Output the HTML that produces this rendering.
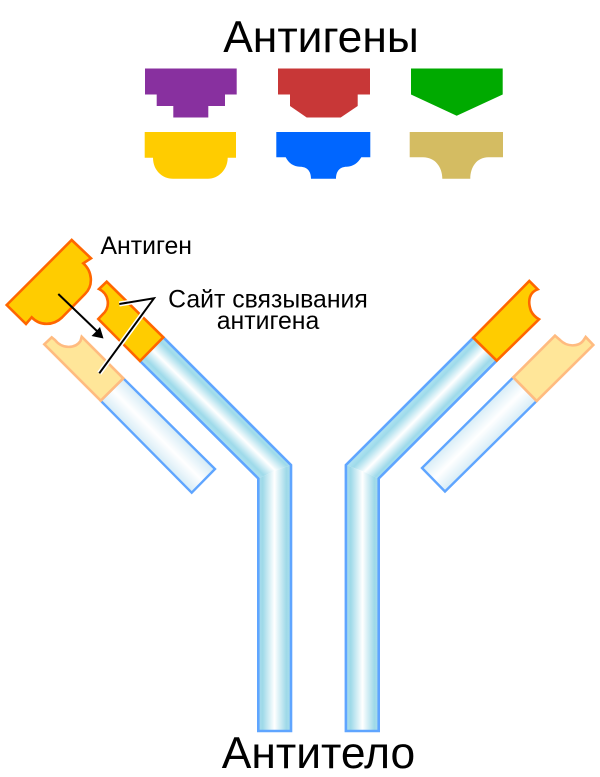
<!DOCTYPE html>
<html><head><meta charset="utf-8"><style>
html,body{margin:0;padding:0;background:#fff;width:600px;height:777px;overflow:hidden}
svg{display:block}
text{font-family:"Liberation Sans",sans-serif;fill:#000}
</style></head><body>
<svg width="600" height="777" viewBox="0 0 600 777" xmlns="http://www.w3.org/2000/svg">
<defs>
<linearGradient id="hv1" gradientUnits="userSpaceOnUse" x1="258" y1="0" x2="291" y2="0"><stop offset="0" stop-color="#aadeee"/><stop offset=".14" stop-color="#9ed9e8"/><stop offset=".5" stop-color="#fff"/><stop offset=".86" stop-color="#9ed9e8"/><stop offset="1" stop-color="#aadeee"/></linearGradient>
<linearGradient id="hv2" gradientUnits="userSpaceOnUse" x1="346" y1="0" x2="379" y2="0"><stop offset="0" stop-color="#aadeee"/><stop offset=".14" stop-color="#9ed9e8"/><stop offset=".5" stop-color="#fff"/><stop offset=".86" stop-color="#9ed9e8"/><stop offset="1" stop-color="#aadeee"/></linearGradient>
<linearGradient id="hd1" gradientUnits="userSpaceOnUse" x1="140" y1="361" x2="163.3" y2="337.3"><stop offset="0" stop-color="#aee2f0"/><stop offset=".16" stop-color="#9edaea"/><stop offset=".5" stop-color="#fff"/><stop offset=".84" stop-color="#9edaea"/><stop offset="1" stop-color="#aee2f0"/></linearGradient>
<linearGradient id="hd2" gradientUnits="userSpaceOnUse" x1="473.3" y1="337.7" x2="496.7" y2="360.7"><stop offset="0" stop-color="#aee2f0"/><stop offset=".16" stop-color="#9edaea"/><stop offset=".5" stop-color="#fff"/><stop offset=".84" stop-color="#9edaea"/><stop offset="1" stop-color="#aee2f0"/></linearGradient>
<linearGradient id="l1" gradientUnits="userSpaceOnUse" x1="100.7" y1="400.7" x2="123.3" y2="378.3"><stop offset="0" stop-color="#d6ecf6"/><stop offset=".5" stop-color="#fff"/><stop offset="1" stop-color="#d6ecf6"/></linearGradient>
<linearGradient id="l2" gradientUnits="userSpaceOnUse" x1="513.3" y1="377.3" x2="536.7" y2="401"><stop offset="0" stop-color="#d6ecf6"/><stop offset=".5" stop-color="#fff"/><stop offset="1" stop-color="#d6ecf6"/></linearGradient>
</defs>

<text x="321" y="52" font-size="44.4" text-anchor="middle">Антигены</text>

<path d="M145,68.5H236.7V94.5H225V106H208.3V117.5H173.3V106H156.7V94.5H145Z" fill="#88309f"/>
<path d="M278,68.5H370V94.5H357.7V106L340.7,117.5H306.7L290,106V94.5H278Z" fill="#c83737"/>
<path d="M411,68.5H502.7V94.5L456.7,115.7L411,94.5Z" fill="#00aa00"/>
<path d="M144.7,132H236V157.7H227.7C227.7,170 218,178.7 208,178.7H173C162,178.7 153,170 153,157.7H144.7Z" fill="#ffcc00"/>
<path d="M276.3,132H370.3V157.3H361.3C358,163 353,166.7 346.7,166.7C340,166.7 336,171 336,178.7H311C311,171 307,166.7 300,166.7C293.5,166.7 288.5,163 285.7,157.3H276.3Z" fill="#0066ff"/>
<path d="M409.7,132H503V157.3H488.3C477,157.3 470.3,167 470.3,178.7H442.3C442.3,167 435,157.3 423,157.3H409.7Z" fill="#d4bc62"/>

<!-- left heavy -->
<path d="M140,361L163.3,337.3L291,465L274.5,471L258.3,478.5Z" fill="url(#hd1)"/>
<path d="M258.3,478.5L274.5,471L291,465V731H258.3Z" fill="url(#hv1)"/>
<path d="M163.3,337.3L291,465V731H258.3V478.5L140,361" fill="none" stroke="#5fa5ff" stroke-width="2.6" stroke-linejoin="miter"/>
<path d="M106.7,281.7L163.3,337.3L140,361L98.3,319L102.5,314.5C111,307 109,294 99,289Z" fill="#ffcc00" stroke="#ff6600" stroke-width="2.6"/>

<!-- right heavy -->
<path d="M496.7,360.7L473.3,337.7L345.9,465L362,471L378.7,478.5Z" fill="url(#hd2)"/>
<path d="M378.7,478.5L362,471L345.9,465V731H378.7Z" fill="url(#hv2)"/>
<path d="M473.3,337.7L345.9,465V731H378.7V478.5L496.7,360.7" fill="none" stroke="#5fa5ff" stroke-width="2.6"/>
<path d="M473.3,337.7L529.3,281L537.7,289.3C530,292 527,300 531,311C533,315 535,317 539,319.3L496.7,360.7Z" fill="#ffcc00" stroke="#ff6600" stroke-width="2.6"/>

<!-- left light -->
<path d="M100.7,400.7L123.3,378.3L215,469L191.7,492.7Z" fill="url(#l1)" stroke="#5fa5ff" stroke-width="2.4"/>
<path d="M44.3,344.3L51.7,337.3L55,340C62,349 75,349 80.5,341L81.7,336.7L123.3,378.3L100.7,400.7Z" fill="#ffe699" stroke="#ffbb80" stroke-width="2.6"/>

<!-- right light -->
<path d="M536.7,401L513.3,377.3L422,468L445,491.5Z" fill="url(#l2)" stroke="#5fa5ff" stroke-width="2.4"/>
<path d="M513.3,377.3L555,335.7L560,340C567,347 578,347 583,341L585.7,337L593.3,345L536.7,401Z" fill="#ffe699" stroke="#ffbb80" stroke-width="2.6"/>

<!-- antigen -->
<path d="M6.7,305L71.7,240L91,258.3L83.3,263.3C92,271 94,285 85,294L62,317.5C53,326 40,326 31.7,317.3L26,324Z" fill="#ffcc00" stroke="#ff6600" stroke-width="2.6"/>

<!-- arrow -->
<path d="M58.3,294L99,333" stroke="#000" stroke-width="2" fill="none"/>
<path d="M103.5,338.5L91.5,336L96,331.5L100,327Z" fill="#000"/>

<!-- callout -->
<path d="M119.3,304L154,298.3L99.3,373.3" fill="none" stroke="#fff" stroke-width="5"/>
<path d="M119.3,304L154,298.3L99.3,373.3" fill="none" stroke="#000" stroke-width="2"/>

<text x="100.5" y="254" font-size="24.8">Антиген</text>
<text x="268" y="307.5" font-size="24.8" text-anchor="middle">Сайт связывания</text>
<text x="268" y="329" font-size="24.8" text-anchor="middle">антигена</text>
<text x="318.5" y="768" font-size="44.4" text-anchor="middle">Антитело</text>
</svg>
</body></html>
